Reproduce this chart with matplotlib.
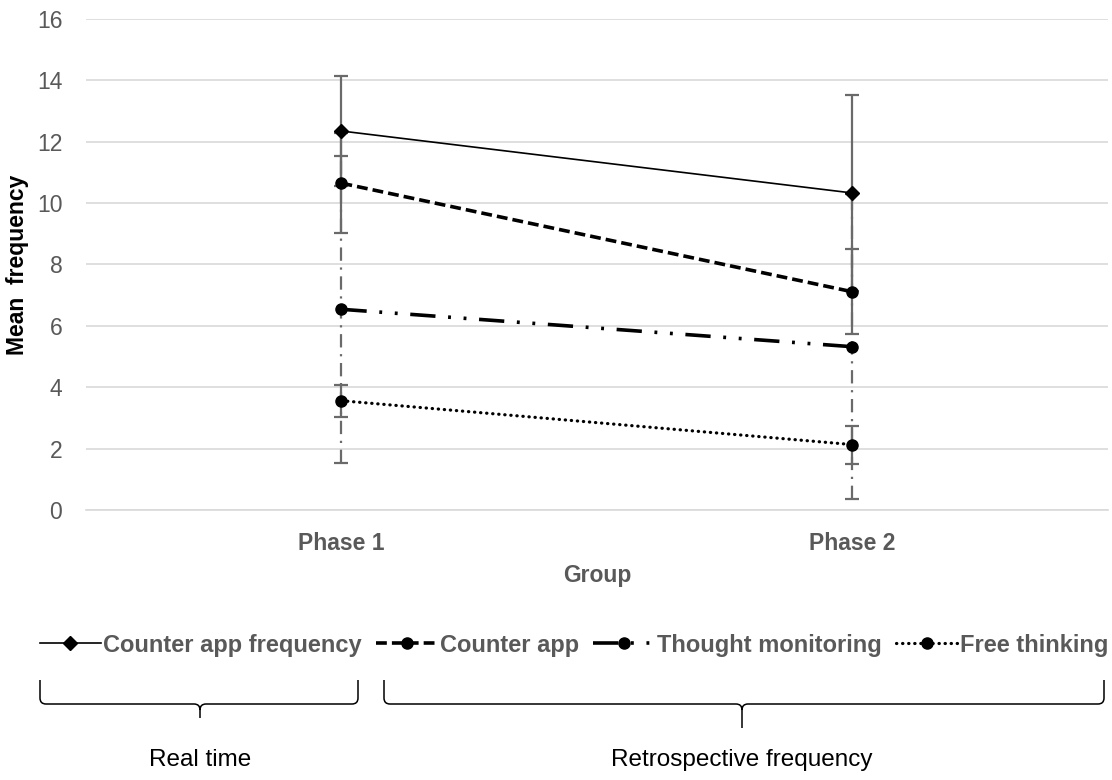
import matplotlib
matplotlib.use("Agg")
import matplotlib.pyplot as plt
from matplotlib.path import Path
from matplotlib.patches import PathPatch

plt.rcParams['font.family'] = ['Liberation Sans', 'DejaVu Sans']

categories = ["Phase 1", "Phase 2"]
series_names = ["Counter app frequency", "Counter app", "Thought monitoring", "Free thinking"]
counter_freq = [12.35, 10.33]
counter_freq_err = [1.79, 3.2]
counter_app = [10.65, 7.11]
counter_app_err = [1.62, 1.38]
thought_mon = [6.54, 5.32]
thought_mon_err = [5.0, 4.97]
free_think = [3.56, 2.13]
free_think_err = [0.52, 0.62]
yticks = [0, 2, 4, 6, 8, 10, 12, 14, 16]

GRAY = '#595959'
EB = '#6a6a6a'

fig = plt.figure(figsize=(11.12, 7.8), dpi=100)
ax = fig.add_axes([0.0773, 0.3462, 0.9191, 0.6294])
x = list(range(len(categories)))

def draw(vals, errs, ls, lw, marker, ms, eb_ls, label, z):
    eb = ax.errorbar(x, vals, yerr=errs, fmt='none', ecolor=EB, elinewidth=1.6,
                     capsize=5, capthick=1.6, zorder=1)
    eb[2][0].set_linestyle(eb_ls)
    line, = ax.plot(x, vals, color='black', linestyle=ls, lw=lw, marker=marker,
                    markersize=ms, markerfacecolor='black', markeredgecolor='black',
                    label=label, zorder=z, dash_capstyle='round' if label == "Free thinking" else 'butt')
    return line

h1 = draw(counter_freq, counter_freq_err, '-', 1.2, 'D', 7, '-', series_names[0], 5)
h2 = draw(counter_app, counter_app_err, (0, (3, 1.4)), 2.6, 'o', 8, '-', series_names[1], 4)
h3 = draw(thought_mon, thought_mon_err, (0, (7, 3.5, 0.8, 3.5, 0.8, 3.5)), 2.6, 'o', 8,
          (0, (6, 3, 1, 3)), series_names[2], 3)
h4 = draw(free_think, free_think_err, (0, (0.1, 1.8)), 2.3, 'o', 8, '-', series_names[3], 2)

ax.set_xlim(-0.5, 1.5)
ax.set_ylim(0, 16)
ax.set_yticks(yticks)
ax.set_yticklabels([str(t) for t in yticks], fontsize=16.5, color=GRAY)
ax.set_xticks(x)
ax.set_xticklabels(categories, fontsize=16.5, fontweight='bold', color=GRAY)
ax.tick_params(axis='both', length=0)
ax.tick_params(axis='y', pad=17)
ax.tick_params(axis='x', pad=16)
ax.grid(axis='y', color='#d9d9d9', lw=1.2, zorder=0)
ax.set_axisbelow(True)
for s in ['top', 'right', 'left']:
    ax.spines[s].set_visible(False)
ax.spines['bottom'].set_color('#d9d9d9')
ax.spines['bottom'].set_linewidth(1.2)
ax.set_xlabel("Group", fontsize=16.5, fontweight='bold', color=GRAY, labelpad=6)
ax.set_ylabel("Mean  frequency", fontsize=16.5, fontweight='bold', color='black')
ax.yaxis.set_label_coords(-0.056, 0.5)

leg = fig.legend(handles=[h1, h2, h3, h4], loc='center', bbox_to_anchor=(0.516, 0.173),
                 ncol=4, frameon=False, handlelength=2.6, handletextpad=0.1,
                 columnspacing=0.6, prop={'size': 17, 'weight': 'bold'})
for t in leg.get_texts():
    t.set_color(GRAY)

W, H = 1112, 780

def bracket(x0, x1, xm, ytop, yh, ybot, r=6):
    pts = lambda px, py: (px / W, 1 - py / H)
    verts = [pts(x0, ytop), pts(x0, yh - r), pts(x0, yh), pts(x0 + r, yh),
             pts(xm - r, yh), pts(xm, yh), pts(xm, yh + r), pts(xm, ybot),
             pts(xm, yh + r), pts(xm, yh), pts(xm + r, yh),
             pts(x1 - r, yh), pts(x1, yh), pts(x1, yh - r), pts(x1, ytop)]
    codes = [Path.MOVETO, Path.LINETO, Path.CURVE3, Path.CURVE3,
             Path.LINETO, Path.CURVE3, Path.CURVE3, Path.LINETO,
             Path.MOVETO, Path.CURVE3, Path.CURVE3,
             Path.LINETO, Path.CURVE3, Path.CURVE3, Path.LINETO]
    p = PathPatch(Path(verts, codes), transform=fig.transFigure, fill=False,
                  edgecolor='black', lw=1.1)
    fig.patches.append(p)

bracket(40, 358, 200, 680, 704, 718)
bracket(384, 1104, 742, 680, 704, 728)
fig.text(200 / W, 1 - 760 / H, "Real time", ha='center', va='center', fontsize=17.5, color='black')
fig.text(742 / W, 1 - 760 / H, "Retrospective frequency", ha='center', va='center', fontsize=17.5, color='black')

fig.savefig("out.png", dpi=100)
